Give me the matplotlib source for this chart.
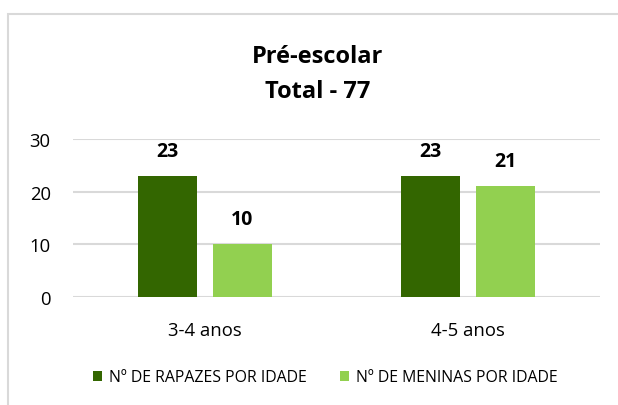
import matplotlib
matplotlib.use("Agg")
import matplotlib.pyplot as plt
from matplotlib.patches import Rectangle, Patch
import numpy as np

categories = ["3-4 anos", "4-5 anos"]
rapazes = [23, 23]
meninas = [10, 21]
series_names = ["Nº DE RAPAZES POR IDADE", "Nº DE MENINAS POR IDADE"]
yticks = [0, 10, 20, 30]
title_lines = ["Pré-escolar", "Total - 77"]

plt.rcParams['font.family'] = ['Open Sans', 'DejaVu Sans']

W, H = 618, 406
dpi = 100
fig = plt.figure(figsize=(W / dpi, H / dpi), dpi=dpi)
fig.patch.set_facecolor("white")

# outer chart frame (cropped)
fig.add_artist(Rectangle((8 / W, -0.1), 1.2, 1 - 15 / H + 0.1, transform=fig.transFigure,
                         fill=False, edgecolor="#D9D9D9", linewidth=1.5))

ax = fig.add_axes([73 / W, 1 - 298 / H, (600 - 73) / W, (298 - 140) / H])
x = np.arange(len(categories))
w = 0.224
off = 0.142
dark = "#336600"
light = "#92D050"
b1 = ax.bar(x - off, rapazes, w, color=dark, zorder=3)
b2 = ax.bar(x + off, meninas, w, color=light, zorder=3)

for bars, vals in ((b1, rapazes), (b2, meninas)):
    for rect, v in zip(bars, vals):
        ax.annotate(str(v), (rect.get_x() + rect.get_width() / 2, rect.get_height()),
                    xytext=(0, 18), textcoords="offset points", ha="center", va="center",
                    fontsize=14, fontweight="bold", color="black")

ax.set_xlim(-0.5, 1.5)
ax.set_ylim(0, 30)
ax.set_yticks(yticks)
ax.set_xticks(x)
ax.set_xticklabels(categories)
ax.tick_params(axis="both", length=0, labelsize=13.3, colors="black")
ax.tick_params(axis="y", pad=16)
ax.tick_params(axis="x", pad=17)
ax.grid(axis="y", color="#D9D9D9", linewidth=1.5, zorder=0)
for s in ax.spines.values():
    s.set_visible(False)

for line, yb in zip(title_lines, (63, 98)):
    fig.text(318 / W, 1 - yb / H, line, ha="center", va="baseline", fontsize=17,
             fontweight="bold")

handles = [Patch(facecolor=dark), Patch(facecolor=light)]
fig.legend(handles, series_names, loc="center", bbox_to_anchor=(325.5 / W, 1 - 378.5 / H),
           ncol=2, frameon=False, fontsize=11.4, handlelength=0.55, handleheight=0.6,
           handletextpad=0.45, columnspacing=2.1)

fig.savefig("out.png", dpi=dpi)
